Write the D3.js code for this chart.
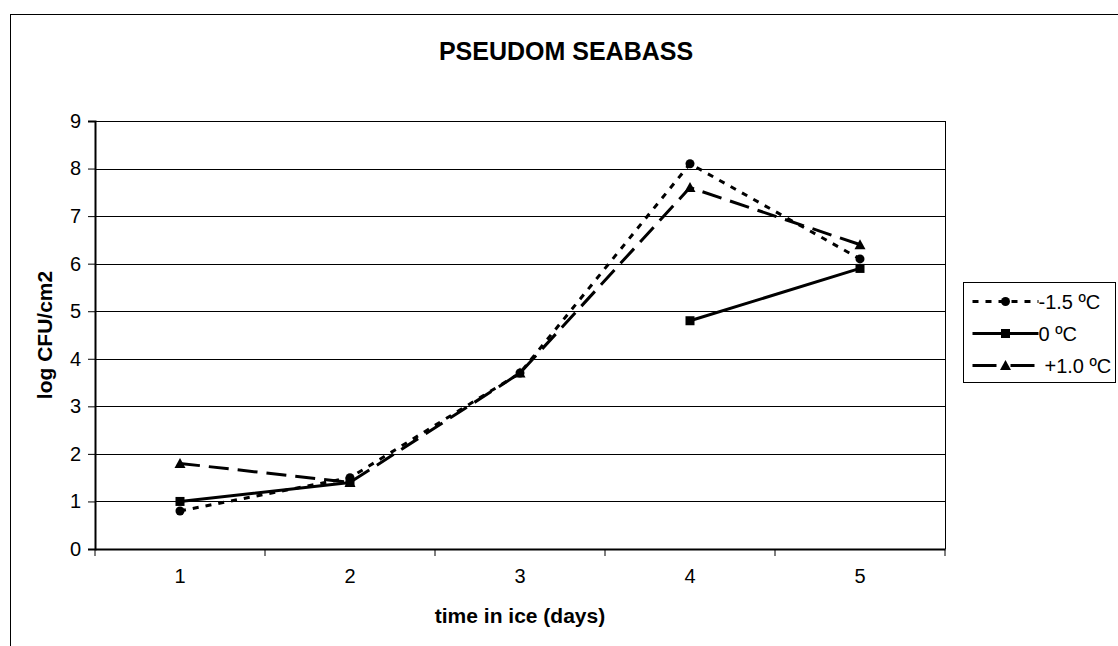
<!DOCTYPE html>
<html>
<head>
<meta charset="utf-8">
<script src="https://cdn.jsdelivr.net/npm/d3@7"></script>
<style>
  body { margin: 0; background: #fff; }
  svg { display: block; font-family: "Liberation Sans", Arial, sans-serif; }
</style>
</head>
<body>
<div id="chart"></div>
<script>
const days = ["1", "2", "3", "4", "5"];
const minus15 = [0.8, 1.5, 3.7, 8.1, 6.1];
const zero = [1.0, 1.4, null, 4.8, 5.9];
const plus10 = [1.8, 1.4, 3.7, 7.6, 6.4];
const yTicks = [0, 1, 2, 3, 4, 5, 6, 7, 8, 9];

const series = [
  { name: "-1.5 ºC", values: minus15, dash: "6,7", marker: "circle" },
  { name: "0 ºC", values: zero, dash: null, marker: "square" },
  { name: "+1.0 ºC", values: plus10, dash: "20,9", marker: "triangle" }
];

const width = 1118, height = 646;
const plot = { left: 95, right: 945, top: 121, bottom: 549 };
const fontFamily = "Liberation Sans, Arial, sans-serif";

const svg = d3.select("#chart").append("svg")
  .attr("width", width)
  .attr("height", height);

// outer chart frame (runs off the right and bottom edges)
svg.append("rect")
  .attr("x", 10.5).attr("y", 14.5)
  .attr("width", 1130).attr("height", 660)
  .attr("fill", "#fff").attr("stroke", "#000").attr("stroke-width", 1);

const x = d3.scaleBand().domain(days).range([plot.left, plot.right]);
const y = d3.scaleLinear().domain([0, 9]).range([plot.bottom, plot.top]);

// gridlines
svg.append("g")
  .selectAll("line")
  .data(yTicks.filter(d => d > 0))
  .join("line")
  .attr("x1", plot.left).attr("x2", plot.right)
  .attr("y1", d => Math.round(y(d)) + 0.5).attr("y2", d => Math.round(y(d)) + 0.5)
  .attr("stroke", "#000").attr("stroke-width", 1);

// right border of plot area
svg.append("line")
  .attr("x1", plot.right + 0.5).attr("x2", plot.right + 0.5)
  .attr("y1", plot.top).attr("y2", plot.bottom)
  .attr("stroke", "#000");

// y axis
const yAxis = svg.append("g")
  .attr("transform", `translate(${plot.left},0)`)
  .call(d3.axisLeft(y).tickValues(yTicks).tickSize(7).tickPadding(7).tickFormat(d3.format("d")));
yAxis.select(".domain").attr("stroke-width", 2);
yAxis.selectAll("text").style("font-size", "20px").style("font-family", fontFamily);

// x axis, ticks sit between the categories
const xAxis = svg.append("g")
  .attr("transform", `translate(0,${plot.bottom})`)
  .call(d3.axisBottom(x).tickSize(0).tickPadding(20));
xAxis.select(".domain").attr("stroke-width", 2);
xAxis.selectAll("text").style("font-size", "20px").style("font-family", fontFamily);
xAxis.selectAll(".sep")
  .data(d3.range(days.length + 1))
  .join("line")
  .attr("class", "sep")
  .attr("x1", i => plot.left + i * x.step()).attr("x2", i => plot.left + i * x.step())
  .attr("y1", 0).attr("y2", 7)
  .attr("stroke", "#000");

// titles
svg.append("text")
  .attr("x", 566).attr("y", 60)
  .attr("text-anchor", "middle")
  .style("font-size", "25px").style("font-weight", "bold")
  .text("PSEUDOM SEABASS");

svg.append("text")
  .attr("x", 520).attr("y", 623)
  .attr("text-anchor", "middle")
  .style("font-size", "21px").style("font-weight", "bold")
  .text("time in ice (days)");

svg.append("text")
  .attr("transform", `translate(52,${(plot.top + plot.bottom) / 2}) rotate(-90)`)
  .attr("text-anchor", "middle")
  .style("font-size", "21px").style("font-weight", "bold")
  .text("log CFU/cm2");

const cx = d => x(d) + x.bandwidth() / 2;

function drawMarker(g, type, px, py) {
  if (type === "circle") {
    g.append("circle").attr("cx", px).attr("cy", py).attr("r", 4.5).attr("fill", "#000");
  } else if (type === "square") {
    g.append("rect").attr("x", px - 4.5).attr("y", py - 4.5).attr("width", 9).attr("height", 9).attr("fill", "#000");
  } else {
    g.append("path")
      .attr("d", `M${px},${py - 5.5}L${px + 5.5},${py + 4.5}L${px - 5.5},${py + 4.5}Z`)
      .attr("fill", "#000");
  }
}

const line = d3.line()
  .defined(d => d.v != null)
  .x(d => cx(d.day))
  .y(d => y(d.v));

series.forEach(s => {
  const pts = days.map((day, i) => ({ day, v: s.values[i] }));
  const g = svg.append("g");
  g.append("path")
    .datum(pts)
    .attr("d", line)
    .attr("fill", "none")
    .attr("stroke", "#000")
    .attr("stroke-width", 3)
    .attr("stroke-dasharray", s.dash);
  pts.filter(p => p.v != null).forEach(p => drawMarker(g, s.marker, cx(p.day), y(p.v)));
});

// legend
const legend = svg.append("g").attr("transform", "translate(963.5,282.5)");
legend.append("rect")
  .attr("width", 152).attr("height", 100)
  .attr("fill", "#fff").attr("stroke", "#000");
series.forEach((s, i) => {
  const ly = 19 + i * 32;
  legend.append("line")
    .attr("x1", 9).attr("x2", 75)
    .attr("y1", ly).attr("y2", ly)
    .attr("stroke", "#000").attr("stroke-width", 3)
    .attr("stroke-dasharray", s.dash === "20,9" ? "24,14" : s.dash);
  drawMarker(legend, s.marker, 42, ly);
  legend.append("text")
    .attr("x", s.name.startsWith("+") ? 81 : 75).attr("y", ly + 7)
    .style("font-size", "20px")
    .text(s.name);
});
</script>
</body>
</html>
